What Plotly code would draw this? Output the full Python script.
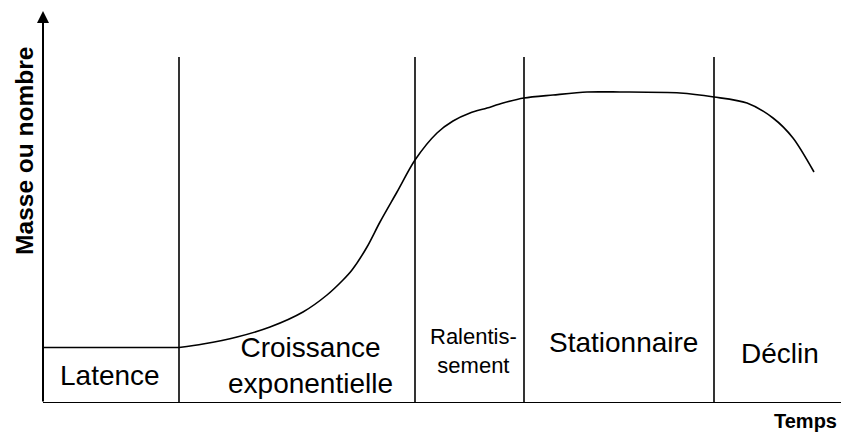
import plotly.graph_objects as go

# growth curve (arbitrary units: time vs mass)
temps_latence = [0, 136]
masse_latence = [55.5, 55.5]

temps = [136, 160, 194, 227, 260, 284, 300, 309, 324, 337, 354, 372, 394, 410, 427,
         444, 460, 481, 510, 544, 577, 637, 671, 704, 730, 750, 771]
masse = [55.5, 59, 66, 76, 91, 108, 123, 133, 156, 181, 211, 243, 270, 282, 290,
         295, 300, 305, 308, 311, 311, 310, 306, 300, 285, 265, 231]

# phase boundaries and labels
limites = [136, 372, 481, 671]
hauteur_limites = 346
phases = ["Latence", "Croissance<br>exponentielle", "Ralentis-<br>sement", "Stationnaire", "Déclin"]
phase_x = [67, 267, 430, 580, 737]
phase_y = [28, 38, 52, 61, 50]
phase_taille = [28, 28, 22, 28, 28]

x_max = 798
y_max = 392

fig = go.Figure()

# lag phase: flat segment
fig.add_trace(
    go.Scatter(
        x=temps_latence,
        y=masse_latence,
        mode='lines',
        line=dict(color='black', width=1.6),
        hoverinfo='skip',
        showlegend=False,
    )
)

# growth, slowdown, plateau, decline
fig.add_trace(
    go.Scatter(
        x=temps,
        y=masse,
        mode='lines',
        line=dict(color='black', width=1.6, shape='spline', smoothing=0.8),
        hoverinfo='skip',
        showlegend=False,
    )
)

# vertical phase separators
for lx in limites:
    fig.add_shape(type='line', xref='x', yref='y', x0=lx, x1=lx, y0=0, y1=hauteur_limites,
                  line=dict(color='black', width=1.6))

# x axis
fig.add_shape(type='line', xref='x', yref='y', x0=0, x1=x_max, y0=0, y1=0,
              line=dict(color='black', width=2))

# y axis with arrow
fig.add_annotation(x=0, y=y_max, ax=0, ay=0, xref='x', yref='y', axref='x', ayref='y',
                   text='', showarrow=True, arrowhead=2, arrowsize=1.2, arrowwidth=2,
                   arrowcolor='black')

police = "Liberation Sans, Arial, sans-serif"

for nom, px, py, taille in zip(phases, phase_x, phase_y, phase_taille):
    fig.add_annotation(x=px, y=py, xref='x', yref='y', text=nom, showarrow=False,
                       font=dict(family=police, size=taille, color='black'),
                       xanchor='center', yanchor='middle', align='center')

fig.add_annotation(x=0.9975, y=-0.045, xref='paper', yref='paper', text='<b>Temps</b>',
                   showarrow=False,
                   font=dict(family=police, size=20, color='black'),
                   xanchor='right', yanchor='middle')

fig.add_annotation(x=-0.0226, y=0.643, xref='paper', yref='paper', text='<b>Masse ou nombre</b>',
                   showarrow=False, textangle=-90,
                   font=dict(family=police, size=24.5, color='black'),
                   xanchor='center', yanchor='middle')

fig.update_layout(
    width=841,
    height=434,
    margin=dict(l=43, r=0, t=11, b=31),
    paper_bgcolor='white',
    plot_bgcolor='white',
    xaxis=dict(range=[0, x_max], visible=False, fixedrange=True),
    yaxis=dict(range=[0, y_max], visible=False, fixedrange=True),
    showlegend=False,
)

fig.write_html("out.html", config={'displayModeBar': False},
               post_script="document.body.style.margin='0';")
